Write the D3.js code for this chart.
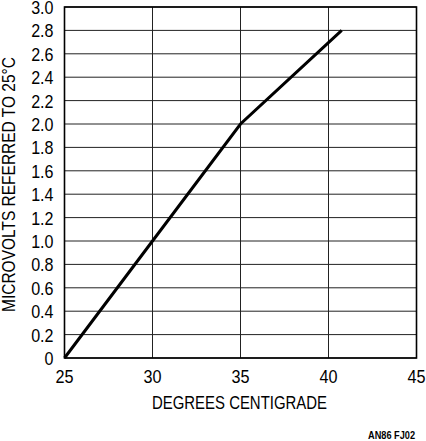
<!DOCTYPE html>
<html>
<head>
<meta charset="utf-8">
<script src="https://cdn.jsdelivr.net/npm/d3@7"></script>
<style>
  body { margin: 0; background: #fff; }
  text { font-family: "Liberation Sans Narrow", "Arial Narrow", "Liberation Sans", sans-serif; fill: #000; }
</style>
</head>
<body>
<svg class="chart"></svg>
<script>
// Chart data.
var temperature = [25, 30, 35, 40.75];      // degrees centigrade
var microvolts = [0, 1.0, 2.0, 2.8];         // microvolts referred to 25°C
var xTicks = [25, 30, 35, 40, 45];
var yTicks = [0, 0.2, 0.4, 0.6, 0.8, 1.0, 1.2, 1.4, 1.6, 1.8, 2.0, 2.2, 2.4, 2.6, 2.8, 3.0];

window.onload = function () {

    var width = 426, height = 441;
    var margin = { left: 64.5, right: 9.5, top: 7, bottom: 83 };

    var svgElement = d3.select("svg.chart")
        .attr("width", width)
        .attr("height", height);

    var x = d3.scaleLinear() // Temperature scale.
        .domain([25, 45])
        .range([margin.left, width - margin.right]);

    var y = d3.scaleLinear() // Microvolt scale.
        .domain([0, 3])
        .range([height - margin.bottom, margin.top]);

    // Grid lines.
    svgElement.append("g")
        .selectAll("line.v")
        .data(xTicks)
        .enter()
            .append("line")
            .attr("x1", d => x(d)).attr("x2", d => x(d))
            .attr("y1", y(0)).attr("y2", y(3))
            .attr("stroke", "#222")
            .attr("stroke-width", 1);

    svgElement.append("g")
        .selectAll("line.h")
        .data(yTicks)
        .enter()
            .append("line")
            .attr("x1", x(25)).attr("x2", x(45))
            .attr("y1", d => y(d)).attr("y2", d => y(d))
            .attr("stroke", "#222")
            .attr("stroke-width", 1);

    // Frame around the plot.
    svgElement.append("rect")
        .attr("x", x(25)).attr("y", y(3))
        .attr("width", x(45) - x(25))
        .attr("height", y(0) - y(3))
        .attr("fill", "none")
        .attr("stroke", "#000")
        .attr("stroke-width", 1.6);

    // Tick labels, squeezed a little to look like a condensed face.
    svgElement.selectAll("text.xtick")
        .data(xTicks)
        .enter()
            .append("text")
            .attr("transform", d => "translate(" + x(d) + "," + (y(0) + 25) + ") scale(0.9,1)")
            .attr("font-size", 18)
            .attr("text-anchor", "middle")
            .text(d => d);

    svgElement.selectAll("text.ytick")
        .data(yTicks)
        .enter()
            .append("text")
            .attr("transform", d => "translate(" + (x(25) - 11) + "," + (y(d) + 7) + ") scale(0.92,1)")
            .attr("font-size", 17.5)
            .attr("text-anchor", "end")
            .text(d => d === 0 ? "0" : d3.format(".1f")(d));

    // Axis titles.
    svgElement.append("text")
        .attr("x", 152)
        .attr("y", 409)
        .attr("font-size", 18)
        .attr("textLength", 175)
        .attr("lengthAdjust", "spacingAndGlyphs")
        .text("DEGREES CENTIGRADE");

    svgElement.append("text")
        .attr("transform", "translate(15,312) rotate(-90)")
        .attr("font-size", 18)
        .attr("textLength", 255)
        .attr("lengthAdjust", "spacingAndGlyphs")
        .text("MICROVOLTS REFERRED TO 25°C");

    svgElement.append("text")
        .attr("x", 368)
        .attr("y", 439)
        .attr("font-size", 10.5)
        .attr("font-weight", "bold")
        .attr("textLength", 47)
        .attr("lengthAdjust", "spacingAndGlyphs")
        .text("AN86 FJ02");

    // The curve.
    var line = d3.line()
        .x(d => x(d[0]))
        .y(d => y(d[1]));

    svgElement.append("path")
        .datum(d3.zip(temperature, microvolts))
        .attr("d", line)
        .attr("fill", "none")
        .attr("stroke", "#000")
        .attr("stroke-width", 3);
};
</script>
</body>
</html>
